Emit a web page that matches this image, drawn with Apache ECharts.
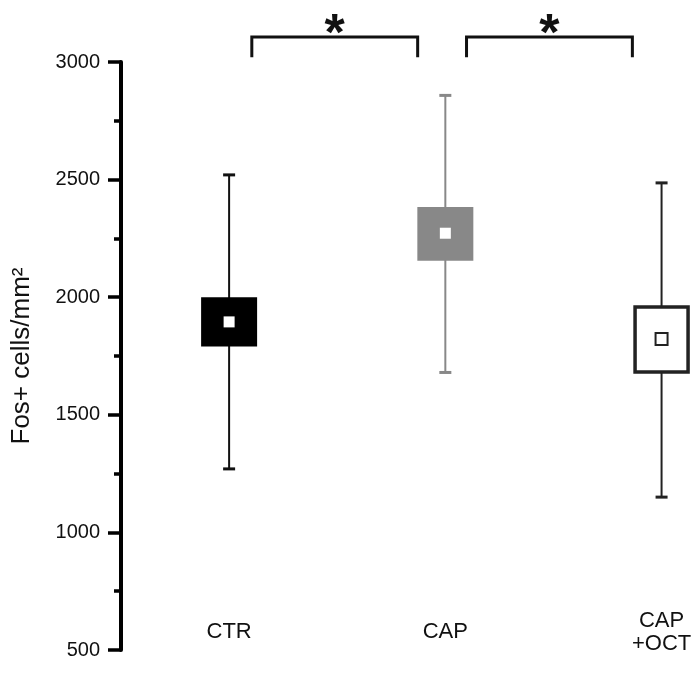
<!DOCTYPE html>
<html>
<head>
<meta charset="utf-8">
<script src="https://cdn.jsdelivr.net/npm/echarts@6/dist/echarts.min.js"></script>
<style>
  html, body { margin: 0; padding: 0; background: #fff; }
  #chart { width: 696px; height: 687px; }
</style>
</head>
<body>
<div id="chart"></div>
<script>
// groups and their x positions
var categories = ['CTR', 'CAP', 'CAP\n+OCT']
var groupX = [1, 2, 3]

// Fos+ cells/mm2
var whiskerLow = [1270, 1680, 1150]
var whiskerHigh = [2520, 2858, 2486]
var boxLow = [1790, 2155, 1682]
var boxHigh = [2000, 2384, 1958]
var means = [1895, 2272, 1822]

// y axis ticks
var yTicks = [500, 1000, 1500, 2000, 2500, 3000]

// significance brackets: [from group x, to group x]
var brackets = [[1.105, 1.872], [2.098, 2.865]]
var bracketTop = 3106
var bracketFoot = 3020
var bracketMark = '*'

var styles = [
  { fill: '#000', line: '#111', inner: 'white' },
  { fill: '#888', line: '#888', inner: 'white' },
  { fill: '#fff', line: '#222', inner: 'outline' },
]

var FONT = '"Liberation Sans", Arial, sans-serif'

var chart = echarts.init(document.getElementById('chart'))

var boxData = groupX.map(function (x, i) {
  return [x, whiskerLow[i], whiskerHigh[i], boxLow[i], boxHigh[i], means[i]]
})

function renderBox(params, api) {
  var i = params.dataIndex
  var st = styles[i]
  var x = api.value(0)
  var lo = api.coord([x, api.value(1)])
  var hi = api.coord([x, api.value(2)])
  var bLo = api.coord([x, api.value(3)])
  var bHi = api.coord([x, api.value(4)])
  var m = api.coord([x, api.value(5)])
  var cx = lo[0]
  var half = 28
  var cap = 6
  var children = [
    { type: 'line', shape: { x1: cx, y1: hi[1], x2: cx, y2: lo[1] }, style: { stroke: st.line, lineWidth: 2 } },
    { type: 'line', shape: { x1: cx - cap, y1: hi[1], x2: cx + cap, y2: hi[1] }, style: { stroke: st.line, lineWidth: 3 } },
    { type: 'line', shape: { x1: cx - cap, y1: lo[1], x2: cx + cap, y2: lo[1] }, style: { stroke: st.line, lineWidth: 3 } },
  ]
  if (st.inner === 'outline') {
    children.push({
      type: 'rect',
      shape: { x: cx - half + 1.5, y: bHi[1], width: half * 2 - 3, height: bLo[1] - bHi[1] },
      style: { fill: '#fff', stroke: st.line, lineWidth: 3.5 },
    })
    children.push({
      type: 'rect',
      shape: { x: cx - 6, y: m[1] - 6, width: 12, height: 12 },
      style: { fill: '#fff', stroke: st.line, lineWidth: 2 },
    })
  } else {
    children.push({
      type: 'rect',
      shape: { x: cx - half, y: bHi[1], width: half * 2, height: bLo[1] - bHi[1] },
      style: { fill: st.fill },
    })
    children.push({
      type: 'rect',
      shape: { x: cx - 5.5, y: m[1] - 5.5, width: 11, height: 11 },
      style: { fill: '#fff' },
    })
  }
  return { type: 'group', children: children }
}

var bracketData = brackets.map(function (b) {
  return [b[0], b[1], bracketTop, bracketFoot]
})

function renderBracket(params, api) {
  var a = api.coord([api.value(0), api.value(2)])
  var b = api.coord([api.value(1), api.value(2)])
  var footY = api.coord([api.value(0), api.value(3)])[1]
  return {
    type: 'group',
    children: [
      {
        type: 'polyline',
        shape: { points: [[a[0], footY], [a[0], a[1]], [b[0], b[1]], [b[0], footY]] },
        style: { stroke: '#111', lineWidth: 3, fill: null },
      },
      {
        type: 'text',
        style: {
          text: bracketMark,
          x: (a[0] + b[0]) / 2,
          y: a[1] + 25,
          align: 'center',
          verticalAlign: 'bottom',
          font: 'bold 52px ' + FONT,
          fill: '#111',
        },
      },
    ],
  }
}

var option = {
  animation: false,
  backgroundColor: '#fff',
  grid: {
    left: 121,
    right: 2,
    top: 62,
    bottom: 37,
    containLabel: false,
    outerBoundsMode: 'none',
  },
  xAxis: {
    type: 'value',
    min: 0.5,
    max: 3.15,
    axisLine: { show: false },
    axisTick: { show: false },
    splitLine: { show: false },
    axisLabel: {
      customValues: groupX,
      inside: true,
      margin: 18,
      verticalAlign: 'middle',
      align: 'center',
      color: '#111',
      fontSize: 22,
      lineHeight: 23,
      fontFamily: FONT,
      formatter: function (v) {
        return categories[groupX.indexOf(v)] || ''
      },
    },
  },
  yAxis: {
    type: 'value',
    min: yTicks[0],
    max: yTicks[yTicks.length - 1],
    interval: 500,
    name: 'Fos+ cells/mm²',
    nameLocation: 'middle',
    nameGap: 86,
    nameRotate: 90,
    nameTextStyle: {
      color: '#111',
      fontSize: 26,
      fontFamily: FONT,
    },
    axisLine: { show: true, lineStyle: { color: '#000', width: 4 } },
    axisTick: { show: true, length: 13, lineStyle: { color: '#000', width: 3.5 } },
    minorTick: { show: true, splitNumber: 2, length: 7, lineStyle: { color: '#000', width: 3.5 } },
    splitLine: { show: false },
    axisLabel: {
      margin: 21,
      color: '#111',
      fontSize: 20,
      fontFamily: FONT,
      formatter: function (v) {
        return String(v)
      },
    },
  },
  series: [
    {
      type: 'custom',
      name: 'Fos',
      renderItem: renderBox,
      encode: { x: 0, y: [1, 2, 3, 4, 5] },
      data: boxData,
      z: 3,
    },
    {
      type: 'custom',
      name: 'significance',
      renderItem: renderBracket,
      encode: { x: [0, 1], y: [2, 3] },
      data: bracketData,
      clip: false,
      z: 4,
    },
  ],
}

chart.setOption(option)
</script>
</body>
</html>
